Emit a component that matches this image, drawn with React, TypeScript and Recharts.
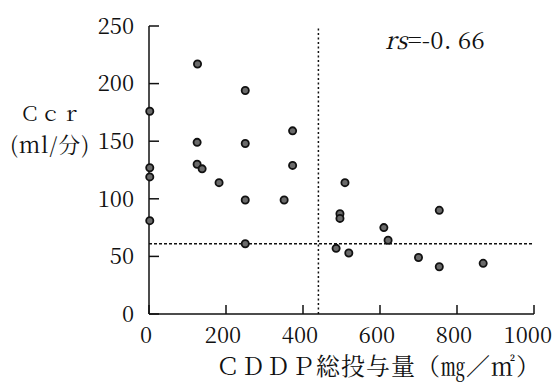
import { Label, ReferenceLine, Scatter, ScatterChart, XAxis, YAxis } from "recharts";

// CDDP total dose (mg/m2) and creatinine clearance (ml/min)
const doseValues = [
  2, 2, 2, 2, 126, 125, 125, 138, 182, 250, 250, 250, 250, 351, 373, 373, 486, 496, 496, 509, 519, 610, 621,
  700, 754, 754, 868,
];
const ccrValues = [
  176, 127, 119, 81, 217, 149, 130, 126, 114, 194, 148, 99, 61, 99, 159, 129, 57, 87, 83, 114, 53, 75, 64, 49,
  90, 41, 44,
];
const xTicks = [0, 200, 400, 600, 800, 1000];
const yTicks = [0, 50, 100, 150, 200, 250];
const doseCutoff = 440;
const ccrCutoff = 61;
const correlationText = "=-0. 66";

const points = doseValues.map((dose, i) => ({ dose, ccr: ccrValues[i] }));

// the Mincho look of the scan: Noto Serif CJK carries both the kana/kanji and serif digits
const mincho = "Noto Serif CJK JP";

function Dot(props: any) {
  const { cx, cy } = props;
  return <circle cx={cx} cy={cy} r={3.6} fill="#6a6a6a" stroke="#111" strokeWidth={1.8} />;
}

function YTitle() {
  return (
    <g fill="#111" style={{ fontFamily: mincho }}>
      <text x={20} y={121} fontSize={20} letterSpacing={0.5}>
        Ｃｃｒ
      </text>
      <text x={10} y={153} fontSize={22} letterSpacing={1}>
        (ml/分)
      </text>
      <text x={385} y={49} fontSize={24} letterSpacing={0.2}>
        <tspan fontStyle="italic">rs</tspan>
        {correlationText}
      </text>
    </g>
  );
}

function XTitle() {
  return (
    <text x={216} y={375} fill="#111" fontSize={24} letterSpacing={1} style={{ fontFamily: mincho }}>
      ＣＤＤＰ総投与量（㎎／㎡）
    </text>
  );
}

export default function App() {
  return (
    <div style={{ position: "absolute", left: 0, top: 0, width: 555, height: 382, background: "#fff" }}>
      <ScatterChart width={555} height={382} margin={{ top: 26, right: 21, bottom: 0, left: 0 }}>
        <XAxis
          dataKey="dose"
          type="number"
          domain={[0, 1000]}
          ticks={xTicks}
          height={68}
          stroke="#111"
          strokeWidth={1.5}
          tickSize={-9}
          tickMargin={22}
          tick={{ fill: "#111", fontSize: 22, style: { fontFamily: mincho }, dx: -3 }}
        >
          <Label content={() => <XTitle />} />
        </XAxis>
        <YAxis
          dataKey="ccr"
          type="number"
          domain={[0, 250]}
          ticks={yTicks}
          width={149}
          stroke="#111"
          strokeWidth={1.5}
          tickSize={-10}
          tickMargin={25}
          tick={{ fill: "#111", fontSize: 22, style: { fontFamily: mincho } }}
        >
          <Label content={() => <YTitle />} />
        </YAxis>
        <ReferenceLine x={doseCutoff} stroke="#111" strokeWidth={1.5} strokeDasharray="2 2.5" />
        <ReferenceLine y={ccrCutoff} stroke="#111" strokeWidth={1.5} strokeDasharray="3 2" />
        <Scatter data={points} shape={<Dot />} isAnimationActive={false} />
      </ScatterChart>
    </div>
  );
}
